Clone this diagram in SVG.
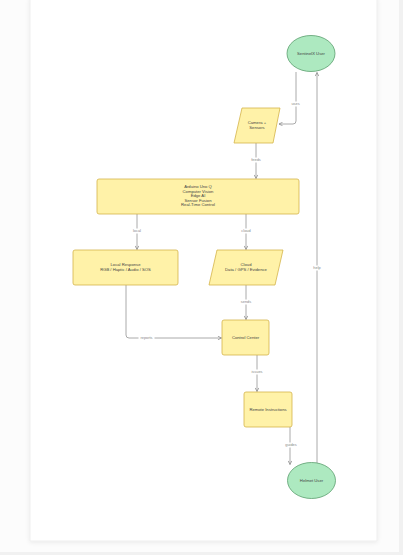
<svg xmlns="http://www.w3.org/2000/svg" width="403" height="555" viewBox="0 0 403 555">
<defs>
<style>
.proc{fill:#fff2a8;stroke:#d4b44a;stroke-width:0.8}
.term{fill:#ade9c0;stroke:#5c9e6e;stroke-width:0.8}
.t{font-family:"Liberation Sans",Arial,sans-serif;font-size:4.2px;fill:#444;text-anchor:middle}
.e{fill:none;stroke:#a0a0a0;stroke-width:0.9}
.lbl{font-family:"Liberation Sans",Arial,sans-serif;font-size:3.9px;fill:#888;text-anchor:middle}
.lb{fill:#ffffff}
</style>
<marker id="arr" viewBox="0 0 10 10" refX="9" refY="5" markerWidth="5" markerHeight="5" orient="auto">
<path d="M1,1 L9,5 L1,9" fill="none" stroke="#888" stroke-width="1.6"/>
</marker>
<filter id="sh" x="-5%" y="-5%" width="110%" height="110%">
<feDropShadow dx="0" dy="1" stdDeviation="2" flood-color="#000" flood-opacity="0.08"/>
</filter>
</defs>
<rect x="0" y="0" width="403" height="555" fill="#f1f1f1"/>
<rect x="0" y="0" width="399" height="552" fill="#fcfcfc"/>
<rect x="30" y="-2" width="347" height="543" fill="#ffffff" stroke="#ececec" stroke-width="0.8" filter="url(#sh)"/>

<g id="connectors">
<path class="e" d="M296,72 V121 Q296,124 293,124 H279" marker-end="url(#arr)"/>
<rect class="lb" x="289.5" y="101.5" width="12" height="5"/>
<text class="lbl" x="295.5" y="105.3">uses</text>

<path class="e" d="M256,143 V178.5" marker-end="url(#arr)"/>
<rect class="lb" x="249.5" y="157.5" width="13" height="5"/>
<text class="lbl" x="256" y="161.3">feeds</text>

<path class="e" d="M137,214 V249.5" marker-end="url(#arr)"/>
<rect class="lb" x="131.5" y="228.5" width="11" height="5"/>
<text class="lbl" x="137" y="232.3">local</text>

<path class="e" d="M246,214 V249.5" marker-end="url(#arr)"/>
<rect class="lb" x="239.5" y="228.5" width="13" height="5"/>
<text class="lbl" x="246" y="232.3">cloud</text>

<path class="e" d="M246,285 V319.5" marker-end="url(#arr)"/>
<rect class="lb" x="239.5" y="299.5" width="13" height="5"/>
<text class="lbl" x="246" y="303.3">sends</text>

<path class="e" d="M126,285 V335 Q126,338 129,338 H221.5" marker-end="url(#arr)"/>
<rect class="lb" x="138.5" y="335.5" width="16" height="5"/>
<text class="lbl" x="146.5" y="339.3">reports</text>

<path class="e" d="M257,355 V391.5" marker-end="url(#arr)"/>
<rect class="lb" x="250" y="369.5" width="14" height="5"/>
<text class="lbl" x="257" y="373.3">issues</text>

<path class="e" d="M290,427 V464.5" marker-end="url(#arr)"/>
<rect class="lb" x="283.5" y="442.5" width="15" height="5"/>
<text class="lbl" x="291" y="446.3">guides</text>

<path class="e" d="M317,463.5 V72.5" marker-end="url(#arr)"/>
<rect class="lb" x="311" y="265.5" width="12" height="5"/>
<text class="lbl" x="317" y="269.3">help</text>
</g>

<g id="sentinel-user">
<ellipse class="term" cx="311" cy="53.5" rx="24" ry="18"/>
<text class="t" x="311" y="55">SentinelX User</text>
</g>

<g id="camera-sensors">
<polygon class="proc" points="242,108 280,108 273,143 234,143"/>
<text class="t" x="257" y="124.3">Camera +</text>
<text class="t" x="257" y="129">Sensors</text>
</g>

<g id="arduino">
<rect class="proc" x="97" y="179" width="202" height="35" rx="2"/>
<text class="t" x="198" y="188.3">Arduino Uno Q</text>
<text class="t" x="198" y="192.8">Computer Vision</text>
<text class="t" x="198" y="197.3">Edge AI</text>
<text class="t" x="198" y="201.8">Sensor Fusion</text>
<text class="t" x="198" y="206.3">Real-Time Control</text>
</g>

<g id="local-response">
<rect class="proc" x="73" y="250" width="105" height="35" rx="2"/>
<text class="t" x="125.5" y="266">Local Response</text>
<text class="t" x="125.5" y="270.8">RGB / Haptic / Audio / SOS</text>
</g>

<g id="cloud">
<polygon class="proc" points="217,250 283,250 275,285 209,285"/>
<text class="t" x="246" y="266">Cloud</text>
<text class="t" x="246" y="270.8">Data / GPS / Evidence</text>
</g>

<g id="control-center">
<rect class="proc" x="222" y="320" width="47" height="35" rx="2"/>
<text class="t" x="245.5" y="339">Control Center</text>
</g>

<g id="remote-instructions">
<rect class="proc" x="244" y="392" width="48" height="35" rx="2"/>
<text class="t" x="268" y="411">Remote Instructions</text>
</g>

<g id="helmet-user">
<ellipse class="term" cx="311.5" cy="480.5" rx="24" ry="18"/>
<text class="t" x="311.5" y="482">Helmet User</text>
</g>
</svg>
